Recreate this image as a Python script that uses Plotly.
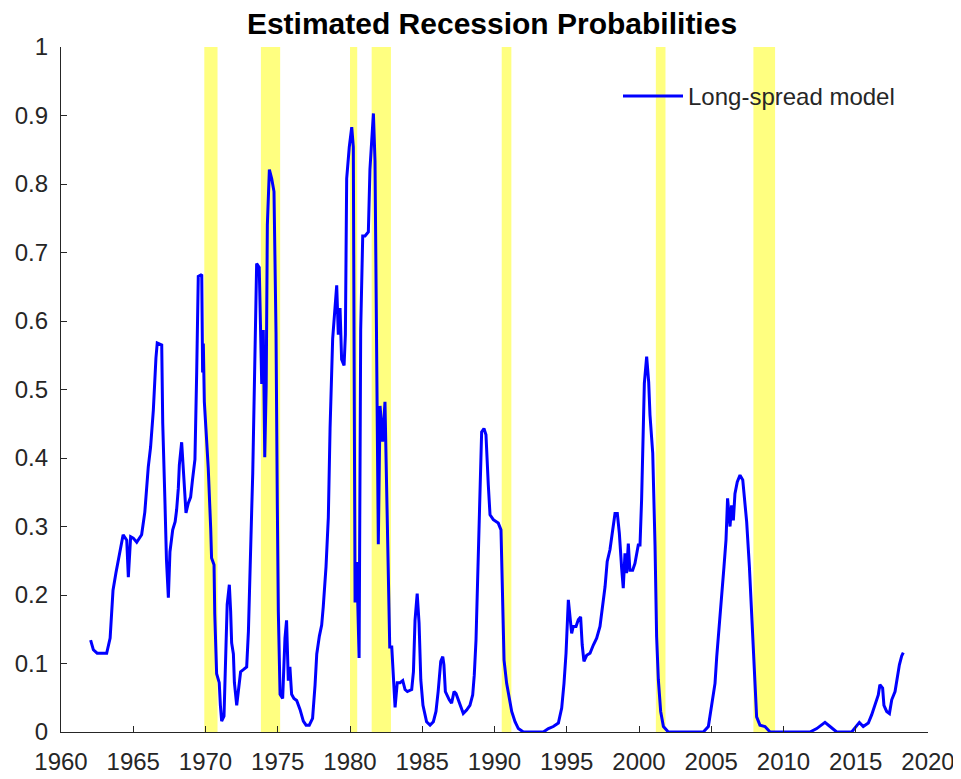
import plotly.graph_objects as go

# ---- data ----
years = [
    1962.05, 1962.24, 1962.5, 1963.16, 1963.4, 1963.5, 1963.6, 1963.8, 1963.97, 1964.13,
    1964.3, 1964.55, 1964.66, 1964.82, 1965.0, 1965.24, 1965.58, 1965.8, 1965.93, 1966.04,
    1966.2, 1966.39, 1966.57, 1966.66, 1966.97, 1967.04, 1967.2, 1967.3, 1967.43, 1967.54,
    1967.73, 1967.9, 1968.0, 1968.12, 1968.19, 1968.35, 1968.51, 1968.65, 1968.81, 1968.97,
    1969.1, 1969.27, 1969.39, 1969.5, 1969.74, 1969.8, 1969.85, 1969.92,
    1970.03, 1970.19, 1970.36, 1970.42, 1970.59, 1970.64, 1970.77, 1970.95, 1971.03, 1971.12,
    1971.28, 1971.33, 1971.42, 1971.5, 1971.65, 1971.74, 1971.81, 1971.93, 1972.0, 1972.16,
    1972.34, 1972.43, 1972.62, 1972.85, 1972.97, 1973.08, 1973.2, 1973.27, 1973.38, 1973.54,
    1973.72, 1973.82, 1973.89, 1974.0, 1974.1, 1974.2, 1974.28, 1974.42, 1974.58, 1974.74,
    1974.88, 1974.97, 1975.04, 1975.16, 1975.34, 1975.5, 1975.61, 1975.73, 1975.84, 1975.96,
    1976.12, 1976.31, 1976.54, 1976.77, 1976.96, 1977.18, 1977.41, 1977.58, 1977.7, 1977.88,
    1978.04, 1978.15, 1978.34, 1978.5, 1978.62, 1978.8, 1978.96, 1979.08, 1979.19, 1979.31,
    1979.42, 1979.59, 1979.68, 1979.77, 1979.95, 1980.12, 1980.23, 1980.27, 1980.35, 1980.47,
    1980.63, 1980.74, 1980.88, 1981.04, 1981.27, 1981.38, 1981.62, 1981.73, 1981.85, 1981.96,
    1982.08, 1982.26, 1982.42, 1982.54, 1982.65, 1982.75, 1982.89, 1983.0, 1983.12, 1983.27,
    1983.46, 1983.65, 1983.81, 1983.97, 1984.27, 1984.39, 1984.5, 1984.65, 1984.78, 1984.9,
    1985.05, 1985.3, 1985.54, 1985.77, 1985.95, 1986.1, 1986.28, 1986.42, 1986.5, 1986.6,
    1986.74, 1986.87, 1987.03, 1987.2, 1987.34, 1987.5, 1987.66, 1987.84, 1988.07, 1988.3,
    1988.49, 1988.6, 1988.72, 1988.81, 1988.95, 1989.11, 1989.27, 1989.41, 1989.57, 1989.69,
    1989.92, 1990.26, 1990.45, 1990.57, 1990.66, 1990.84, 1991.03, 1991.19, 1991.42, 1991.65,
    1992.0, 1992.69, 1993.38, 1993.73, 1994.07, 1994.42, 1994.65, 1994.81, 1994.95, 1995.11,
    1995.22, 1995.34, 1995.45, 1995.64, 1995.8, 1995.96, 1996.07, 1996.19, 1996.38, 1996.61,
    1996.84, 1997.07, 1997.3, 1997.49, 1997.65, 1997.8, 1997.99, 1998.18, 1998.34, 1998.5,
    1998.64, 1998.8, 1998.91, 1999.03, 1999.14, 1999.26, 1999.37, 1999.56, 1999.72, 1999.95,
    2000.07, 2000.18, 2000.26, 2000.37, 2000.53, 2000.67, 2000.76, 2000.95, 2001.11, 2001.22,
    2001.34, 2001.5, 2001.69, 2002.03, 2002.84, 2004.45, 2004.8, 2005.03, 2005.26, 2005.38,
    2005.57, 2005.72, 2005.88, 2006.02, 2006.13, 2006.3, 2006.41, 2006.53, 2006.64, 2006.8,
    2006.99, 2007.18, 2007.29, 2007.45, 2007.64, 2007.8, 2007.91, 2008.03, 2008.14, 2008.37,
    2008.72, 2009.07, 2011.14, 2011.83, 2012.3, 2012.87, 2013.22, 2013.68, 2014.72, 2015.06,
    2015.25, 2015.52, 2015.87, 2016.1, 2016.33, 2016.56, 2016.67, 2016.86, 2016.95, 2017.14,
    2017.33, 2017.49, 2017.72, 2017.9, 2018.02, 2018.18, 2018.29,
]

probabilities = [
    0.134, 0.120, 0.115, 0.115, 0.137, 0.175, 0.207, 0.232, 0.251, 0.270,
    0.288, 0.280, 0.226, 0.285, 0.283, 0.277, 0.288, 0.321, 0.358, 0.387,
    0.416, 0.470, 0.546, 0.568, 0.565, 0.451, 0.331, 0.251, 0.196, 0.263,
    0.295, 0.307, 0.324, 0.356, 0.390, 0.423, 0.368, 0.320, 0.334, 0.343,
    0.368, 0.398, 0.525, 0.665, 0.668, 0.525, 0.567, 0.482,
    0.443, 0.385, 0.297, 0.254, 0.244, 0.173, 0.085, 0.072, 0.039, 0.016,
    0.023, 0.072, 0.127, 0.186, 0.215, 0.176, 0.130, 0.114, 0.072, 0.039,
    0.072, 0.088, 0.091, 0.095, 0.147, 0.254, 0.326, 0.378, 0.525, 0.684,
    0.678, 0.587, 0.508, 0.587, 0.401, 0.505, 0.740, 0.821, 0.808, 0.789,
    0.583, 0.332, 0.176, 0.055, 0.049, 0.137, 0.163, 0.075, 0.095, 0.055,
    0.049, 0.046, 0.033, 0.016, 0.010, 0.010, 0.020, 0.068, 0.114, 0.140,
    0.156, 0.183, 0.241, 0.313, 0.443, 0.574, 0.619, 0.652, 0.580, 0.619,
    0.544, 0.535, 0.580, 0.808, 0.854, 0.883, 0.854, 0.489, 0.189, 0.248,
    0.108, 0.587, 0.724, 0.724, 0.730, 0.821, 0.903, 0.834, 0.489, 0.274,
    0.476, 0.424, 0.482, 0.352, 0.183, 0.124, 0.124, 0.072, 0.036, 0.072,
    0.072, 0.075, 0.062, 0.059, 0.062, 0.088, 0.163, 0.202, 0.159, 0.076,
    0.039, 0.015, 0.010, 0.015, 0.030, 0.059, 0.103, 0.110, 0.098, 0.059,
    0.052, 0.047, 0.042, 0.059, 0.056, 0.047, 0.035, 0.027, 0.032, 0.039,
    0.054, 0.083, 0.134, 0.202, 0.314, 0.438, 0.443, 0.434, 0.361, 0.317,
    0.310, 0.305, 0.295, 0.202, 0.105, 0.071, 0.047, 0.030, 0.015, 0.005,
    0.000, 0.000, 0.000, 0.005, 0.008, 0.013, 0.035, 0.071, 0.115, 0.193,
    0.173, 0.144, 0.154, 0.154, 0.164, 0.168, 0.127, 0.103, 0.112, 0.115,
    0.127, 0.137, 0.154, 0.185, 0.212, 0.249, 0.266, 0.295, 0.319, 0.319,
    0.290, 0.239, 0.210, 0.261, 0.232, 0.275, 0.236, 0.236, 0.246, 0.273,
    0.273, 0.339, 0.412, 0.509, 0.548, 0.511, 0.463, 0.407, 0.271, 0.139,
    0.076, 0.030, 0.008, 0.000, 0.000, 0.000, 0.008, 0.042, 0.071, 0.110,
    0.156, 0.202, 0.241, 0.280, 0.341, 0.300, 0.331, 0.309, 0.348, 0.365,
    0.375, 0.368, 0.339, 0.307, 0.241, 0.173, 0.110, 0.056, 0.022, 0.010,
    0.008, 0.000, 0.000, 0.000, 0.005, 0.014, 0.008, 0.000, 0.000, 0.008,
    0.014, 0.008, 0.013, 0.025, 0.039, 0.054, 0.069, 0.064, 0.039, 0.030,
    0.027, 0.047, 0.059, 0.081, 0.098, 0.111, 0.116,
]

# NBER recession periods (shaded)
recession_start = [1969.917, 1973.833, 1980.0, 1981.5, 1990.5, 2001.167, 2007.917]
recession_end = [1970.833, 1975.167, 1980.5, 1982.833, 1991.167, 2001.833, 2009.417]

x_ticks = [1960, 1965, 1970, 1975, 1980, 1985, 1990, 1995, 2000, 2005, 2010, 2015, 2020]
y_ticks = [0, 0.1, 0.2, 0.3, 0.4, 0.5, 0.6, 0.7, 0.8, 0.9, 1]
y_tick_labels = ["0", "0.1", "0.2", "0.3", "0.4", "0.5", "0.6", "0.7", "0.8", "0.9", "1"]

FONT = "Liberation Sans, Arial, Helvetica, sans-serif"
AXIS_COLOR = "#262626"

# page has an 8px body margin, so the figure is sized/offset to compensate
W, H = 953, 771
ML, MR, MT, MB = 53, 33, 39, 47
PLOT_W = W - ML - MR

fig = go.Figure()

fig.add_trace(go.Scatter(
    x=years, y=probabilities, mode="lines",
    line=dict(color="#0000FF", width=3),
    name="Long-spread model",
))

for s, e in zip(recession_start, recession_end):
    fig.add_shape(type="rect", xref="x", yref="y", x0=s, x1=e, y0=0, y1=1,
                  fillcolor="rgb(255,255,128)", line=dict(width=0), layer="below")

fig.update_layout(
    width=W, height=H,
    margin=dict(l=ML, r=MR, t=MT, b=MB, autoexpand=False),
    paper_bgcolor="white", plot_bgcolor="white",
    font=dict(family=FONT, size=24, color=AXIS_COLOR),
    title=dict(text="<b>Estimated Recession Probabilities</b>",
               x=484 / W, xanchor="center",
               y=1 - 15 / H, yanchor="middle",
               font=dict(family=FONT, size=30, color="black")),
    showlegend=True,
    legend=dict(x=(610 - ML) / PLOT_W, y=0.928, xanchor="left", yanchor="middle",
                bgcolor="rgba(0,0,0,0)", borderwidth=0,
                font=dict(family=FONT, size=24, color=AXIS_COLOR),
                itemwidth=60),
)

fig.update_xaxes(
    range=[1960, 2020], tickmode="array", tickvals=x_ticks,
    ticks="inside", ticklen=6, tickcolor=AXIS_COLOR, tickwidth=1,
    showline=True, linecolor=AXIS_COLOR, linewidth=1.3,
    showgrid=False, zeroline=False, mirror=False, automargin=False,
    tickfont=dict(family=FONT, size=24, color=AXIS_COLOR),
    ticklabelstandoff=8,
)
fig.update_yaxes(
    range=[0, 1], tickmode="array", tickvals=y_ticks, ticktext=y_tick_labels,
    ticks="inside", ticklen=6, tickcolor=AXIS_COLOR, tickwidth=1,
    showline=True, linecolor=AXIS_COLOR, linewidth=1.3,
    showgrid=False, zeroline=False, mirror=False, automargin=False,
    tickfont=dict(family=FONT, size=24, color=AXIS_COLOR),
    ticklabelstandoff=7,
)

fig.write_html("out.html")
